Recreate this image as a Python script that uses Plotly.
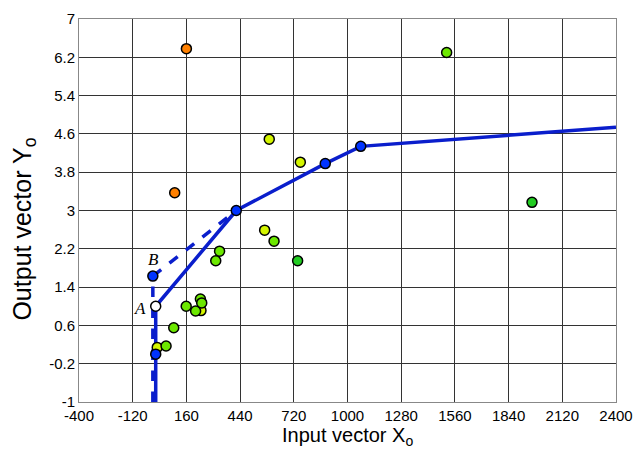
import plotly.graph_objects as go

# Scatter observations (x, y, color group)
orange_x = [160, 99]
orange_y = [6.38, 3.37]
yellow_x = [592, 754, 568, 8, 236]
yellow_y = [4.49, 4.01, 2.59, 0.14, 0.91]
lime_x = [1517, 617, 333, 313, 54, 94, 159, 208, 233, 240]
lime_y = [6.30, 2.36, 2.15, 1.95, 0.17, 0.55, 1.00, 0.90, 1.15, 1.07]
green_x = [1962, 740]
green_y = [3.17, 1.95]

# Solid piecewise line
solid_x = [0, 0, 0, 420, 884, 1069, 2400]
solid_y = [-1, 0.0, 1.0, 3.0, 3.98, 4.34, 4.74]
# Dashed piecewise line
dash_x = [-15, -15, 420]
dash_y = [-1, 1.63, 3.0]
# Blue nodes
node_x = [0, -15, 420, 884, 1069]
node_y = [0.0, 1.63, 3.0, 3.98, 4.34]
# White node A
a_x = [0]
a_y = [1.0]

x_ticks = [-400, -120, 160, 440, 720, 1000, 1280, 1560, 1840, 2120, 2400]
y_ticks = [-1, -0.2, 0.6, 1.4, 2.2, 3, 3.8, 4.6, 5.4, 6.2, 7]
y_labels = ["-1", "-0.2", "0.6", "1.4", "2.2", "3", "3.8", "4.6", "5.4", "6.2", "7"]

blue = "#0A1ECC"
fig = go.Figure()
fig.add_trace(go.Scatter(x=dash_x, y=dash_y, mode="lines",
                         line=dict(color=blue, width=3.5, dash="dash")))
fig.add_trace(go.Scatter(x=solid_x, y=solid_y, mode="lines",
                         line=dict(color=blue, width=3.5)))

def pts(xs, ys, col):
    fig.add_trace(go.Scatter(x=xs, y=ys, mode="markers",
                             marker=dict(size=10, color=col,
                                         line=dict(color="black", width=1.5))))

pts(orange_x, orange_y, "#FF8000")
pts(yellow_x, yellow_y, "#D4F500")
pts(lime_x, lime_y, "#6CE800")
pts(green_x, green_y, "#22CC22")
pts(node_x, node_y, "#0033FF")
pts(a_x, a_y, "#FFFFFF")

fig.add_annotation(x=-9, y=1.97, text="<i>B</i>", showarrow=False,
                   font=dict(family="Liberation Serif", size=17, color="black"))
fig.add_annotation(x=-82, y=0.96, text="<i>A</i>", showarrow=False,
                   font=dict(family="Liberation Serif", size=17, color="black"))

# The page body has an 8px margin, so the figure is sized to compensate.
fig.add_annotation(x=0.5, y=-0.091, xref="paper", yref="paper",
                   text="Input vector X<sub>o</sub>", showarrow=False,
                   xanchor="center", yanchor="middle",
                   font=dict(family="Liberation Sans", size=20, color="black"))
fig.add_annotation(x=-0.103, y=0.452, xref="paper", yref="paper",
                   text="Output vector Y<sub>o</sub>", showarrow=False,
                   textangle=-90, xanchor="center", yanchor="middle",
                   font=dict(family="Liberation Sans", size=25, color="black"))

fig.update_layout(
    width=636, height=443,
    margin=dict(l=71, r=28, t=11, b=49, autoexpand=False),
    paper_bgcolor="white", plot_bgcolor="white",
    showlegend=False,
    font=dict(family="Liberation Sans", size=15, color="black"),
)
fig.update_xaxes(range=[-400, 2400], tickvals=x_ticks, ticktext=[str(v) for v in x_ticks],
                 showgrid=True, gridcolor="#333333", gridwidth=1,
                 showline=True, linecolor="#888888", linewidth=1, mirror=True,
                 zeroline=False, ticks="", ticklen=0)
fig.update_yaxes(range=[-1, 7], tickvals=y_ticks, ticktext=y_labels,
                 showgrid=True, gridcolor="#333333", gridwidth=1,
                 showline=True, linecolor="#888888", linewidth=1, mirror=True,
                 zeroline=False, ticks="", ticklen=0)

fig.write_html("out.html")
